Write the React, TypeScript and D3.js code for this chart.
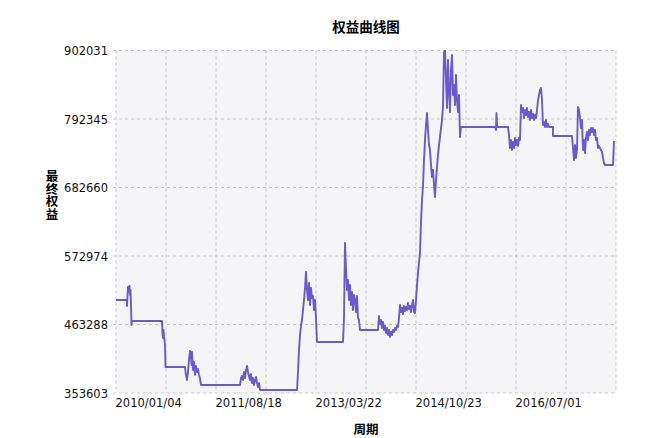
import { useEffect, useRef } from 'react';
import * as d3 from 'd3';

const chartTitle = '权益曲线图';
const xTitle = '周期';
const yTitle = '最终权益';

const yTicks = [353603, 463288, 572974, 682660, 792345, 902031];
const xTickIndex = [0, 400, 800, 1200, 1600];
const xTickLabels = ['2010/01/04', '2011/08/18', '2013/03/22', '2014/10/23', '2016/07/01'];
const totalDays = 2000;

// [trading day index, equity]
const equityCurve: [number, number][] = [
  [0, 502500], [44, 502500], [44, 492900], [48, 523300], [52, 515300], [54, 524900],
  [56, 510500], [58, 518500], [60, 494500], [62, 462500], [64, 468900], [184, 468900],
  [186, 449700], [188, 441700], [190, 454500], [192, 444900], [196, 430500], [198, 395200],
  [276, 395200], [280, 382400], [284, 374400], [288, 387200], [292, 406400], [296, 420900],
  [300, 412800], [302, 398400], [304, 419300], [308, 390400], [312, 403200], [316, 382400],
  [320, 396800], [324, 387200], [328, 392000], [332, 382400], [336, 377600], [340, 366400],
  [496, 366400], [500, 377600], [504, 380800], [508, 374400], [512, 387200], [516, 377600],
  [520, 390400], [524, 396800], [528, 387200], [532, 380800], [536, 374400], [540, 384000],
  [544, 369600], [548, 377600], [552, 366400], [556, 374400], [560, 379200], [564, 369600],
  [568, 363200], [572, 369600], [576, 358400], [724, 358400], [728, 387200], [732, 422500],
  [736, 446500], [740, 460900], [744, 470500], [748, 486500], [752, 502500], [756, 521700],
  [760, 547300], [764, 518500], [768, 502500], [772, 529700], [776, 494500], [780, 521700],
  [784, 505700], [788, 508900], [792, 486500], [796, 502500], [800, 473700], [804, 435300],
  [908, 435300], [912, 473700], [916, 593800], [920, 553800], [924, 518500], [928, 534500],
  [932, 502500], [936, 526500], [940, 494500], [944, 515300], [948, 486500], [952, 510500],
  [956, 502500], [960, 483300], [964, 508900], [968, 473700], [972, 470500], [976, 454500],
  [1048, 454500], [1052, 476900], [1056, 464100], [1060, 470500], [1064, 457700], [1068, 467300],
  [1072, 454500], [1076, 460900], [1080, 449700], [1084, 457700], [1088, 446500], [1092, 454500],
  [1096, 443300], [1100, 451300], [1104, 446500], [1108, 454500], [1112, 451300], [1116, 457700],
  [1120, 454500], [1124, 460900], [1128, 459300], [1132, 473700], [1136, 494500], [1140, 483300],
  [1144, 489700], [1148, 480100], [1152, 492900], [1156, 484900], [1160, 491300], [1164, 486500],
  [1168, 497700], [1172, 488100], [1176, 492900], [1180, 483300], [1184, 494500], [1188, 502500],
  [1192, 483300], [1196, 481700], [1200, 502500], [1204, 526500], [1208, 545700], [1212, 563400],
  [1216, 577800], [1220, 627400], [1224, 662600], [1228, 685100], [1232, 726700], [1236, 758700],
  [1240, 782700], [1244, 801900], [1248, 774700], [1252, 750700], [1256, 742700], [1260, 718700],
  [1264, 699500], [1268, 710700], [1272, 686700], [1276, 667400], [1280, 694700], [1284, 715500],
  [1288, 734700], [1292, 750700], [1296, 763500], [1300, 777900], [1304, 790700], [1308, 811500],
  [1312, 899600], [1316, 901800], [1320, 854800], [1324, 809900], [1328, 886800], [1332, 838800],
  [1336, 803500], [1340, 870800], [1344, 894800], [1348, 830800], [1352, 846800], [1356, 814700],
  [1360, 862800], [1364, 822800], [1368, 803500], [1372, 830800], [1376, 763500], [1380, 779500],
  [1516, 779500], [1520, 774700], [1522, 801900], [1524, 782700], [1526, 779500], [1568, 779500],
  [1572, 766700], [1576, 745900], [1580, 758700], [1584, 742700], [1588, 755500], [1592, 745900],
  [1596, 761900], [1600, 750700], [1604, 758700], [1608, 749100], [1612, 761900], [1616, 758700],
  [1620, 814700], [1624, 803500], [1628, 809900], [1632, 793900], [1636, 806700], [1640, 798700],
  [1644, 809900], [1648, 795500], [1652, 803500], [1656, 790700], [1660, 806700], [1664, 793900],
  [1668, 800300], [1672, 790700], [1676, 798700], [1680, 793900], [1684, 806700], [1688, 822800],
  [1692, 830800], [1696, 838800], [1700, 842000], [1704, 822800], [1708, 782700], [1712, 787500],
  [1716, 779500], [1720, 790700], [1724, 779500], [1728, 784300], [1732, 779500], [1748, 779500],
  [1748, 765100], [1824, 765100], [1828, 745900], [1832, 726700], [1836, 750700], [1840, 729900],
  [1844, 742700], [1848, 811500], [1852, 806700], [1856, 793900], [1860, 777900], [1864, 790700],
  [1868, 742700], [1872, 758700], [1876, 737900], [1880, 761900], [1884, 771500], [1888, 758700],
  [1892, 774700], [1896, 766700], [1900, 777900], [1904, 771500], [1908, 777900], [1912, 766700],
  [1916, 774700], [1920, 758700], [1924, 761900], [1928, 745900], [1932, 749100], [1936, 745900],
  [1940, 742700], [1944, 739500], [1948, 729900], [1952, 721900], [1956, 718700], [1988, 718700],
  [1992, 757100],
];

export default function App() {
  const svgRef = useRef<SVGSVGElement>(null);

  useEffect(() => {
    if (!svgRef.current) return;

    const width = 665;
    const height = 438;
    const margin = { top: 50.5, right: 49, bottom: 45, left: 116 };
    const font = '"DejaVu Sans", Tahoma, sans-serif';
    const cjk = '"Noto Sans CJK SC", sans-serif';

    d3.select(svgRef.current).selectAll('*').remove();
    const svg = d3.select(svgRef.current).attr('width', width).attr('height', height);

    svg.append('rect').attr('width', width).attr('height', height).attr('fill', '#fff');

    const x = d3.scaleLinear().domain([0, totalDays]).range([margin.left, width - margin.right]);
    const y = d3
      .scaleLinear()
      .domain([yTicks[0], yTicks[yTicks.length - 1]])
      .range([height - margin.bottom, margin.top]);

    // plot background
    svg
      .append('rect')
      .attr('x', margin.left)
      .attr('y', margin.top)
      .attr('width', width - margin.left - margin.right)
      .attr('height', height - margin.top - margin.bottom)
      .attr('fill', '#f5f5f7');

    // grid
    const gridX = d3.range(0, totalDays + 1, 200);
    svg
      .append('g')
      .selectAll('line')
      .data(gridX)
      .enter()
      .append('line')
      .attr('x1', (d) => x(d))
      .attr('x2', (d) => x(d))
      .attr('y1', margin.top)
      .attr('y2', height - margin.bottom)
      .attr('stroke', '#c8c8c8')
      .attr('stroke-dasharray', '3,3');

    svg
      .append('g')
      .selectAll('line')
      .data(yTicks)
      .enter()
      .append('line')
      .attr('x1', margin.left - 3)
      .attr('x2', width - margin.right)
      .attr('y1', (d) => y(d))
      .attr('y2', (d) => y(d))
      .attr('stroke', '#c8c8c8')
      .attr('stroke-dasharray', '3,3');

    // axes
    const yAxis = svg
      .append('g')
      .attr('transform', `translate(${margin.left - 5}, 0)`)
      .call(d3.axisLeft(y).tickValues(yTicks).tickSize(0).tickFormat((d) => String(d)));
    yAxis.select('.domain').remove();
    yAxis
      .selectAll('text')
      .attr('font-family', font)
      .attr('font-size', '11.5px')
      .attr('fill', '#111')
      .attr('dy', '0.35em');

    const xAxis = svg
      .append('g')
      .attr('transform', `translate(0, ${height - margin.bottom})`)
      .call(
        d3
          .axisBottom(x)
          .tickValues(xTickIndex)
          .tickSize(0)
          .tickFormat((_, i) => xTickLabels[i])
      );
    xAxis.select('.domain').remove();
    xAxis
      .selectAll('text')
      .attr('font-family', font)
      .attr('font-size', '11.5px')
      .attr('fill', '#111')
      .attr('text-anchor', 'start')
      .attr('x', -1)
      .attr('y', 6)
      .attr('dy', '0.71em');

    // equity line
    const line = d3
      .line<[number, number]>()
      .x((d) => x(d[0]))
      .y((d) => y(d[1]));

    svg
      .append('path')
      .datum(equityCurve)
      .attr('d', line)
      .attr('fill', 'none')
      .attr('stroke', '#6a5acd')
      .attr('stroke-width', 1.9)
      .attr('stroke-linejoin', 'round');

    // titles
    svg
      .append('text')
      .attr('x', (margin.left + width - margin.right) / 2)
      .attr('y', 32)
      .attr('text-anchor', 'middle')
      .attr('font-family', cjk)
      .attr('font-weight', 'bold')
      .attr('font-size', '13.5px')
      .attr('fill', '#000')
      .text(chartTitle);

    svg
      .append('text')
      .attr('x', (margin.left + width - margin.right) / 2)
      .attr('y', 434)
      .attr('text-anchor', 'middle')
      .attr('font-family', cjk)
      .attr('font-weight', 'bold')
      .attr('font-size', '12.5px')
      .attr('fill', '#000')
      .text(xTitle);

    // vertical y-axis title, characters stacked upright
    svg
      .append('text')
      .attr('x', 52)
      .attr('y', 195)
      .attr('text-anchor', 'middle')
      .style('writing-mode', 'vertical-rl')
      .style('text-orientation', 'upright')
      .attr('font-family', cjk)
      .attr('font-weight', 'bold')
      .attr('font-size', '12.5px')
      .attr('fill', '#000')
      .text(yTitle);
  }, []);

  return (
    <svg
      ref={svgRef}
      style={{ position: 'absolute', left: 0, top: 0, display: 'block' }}
    />
  );
}
